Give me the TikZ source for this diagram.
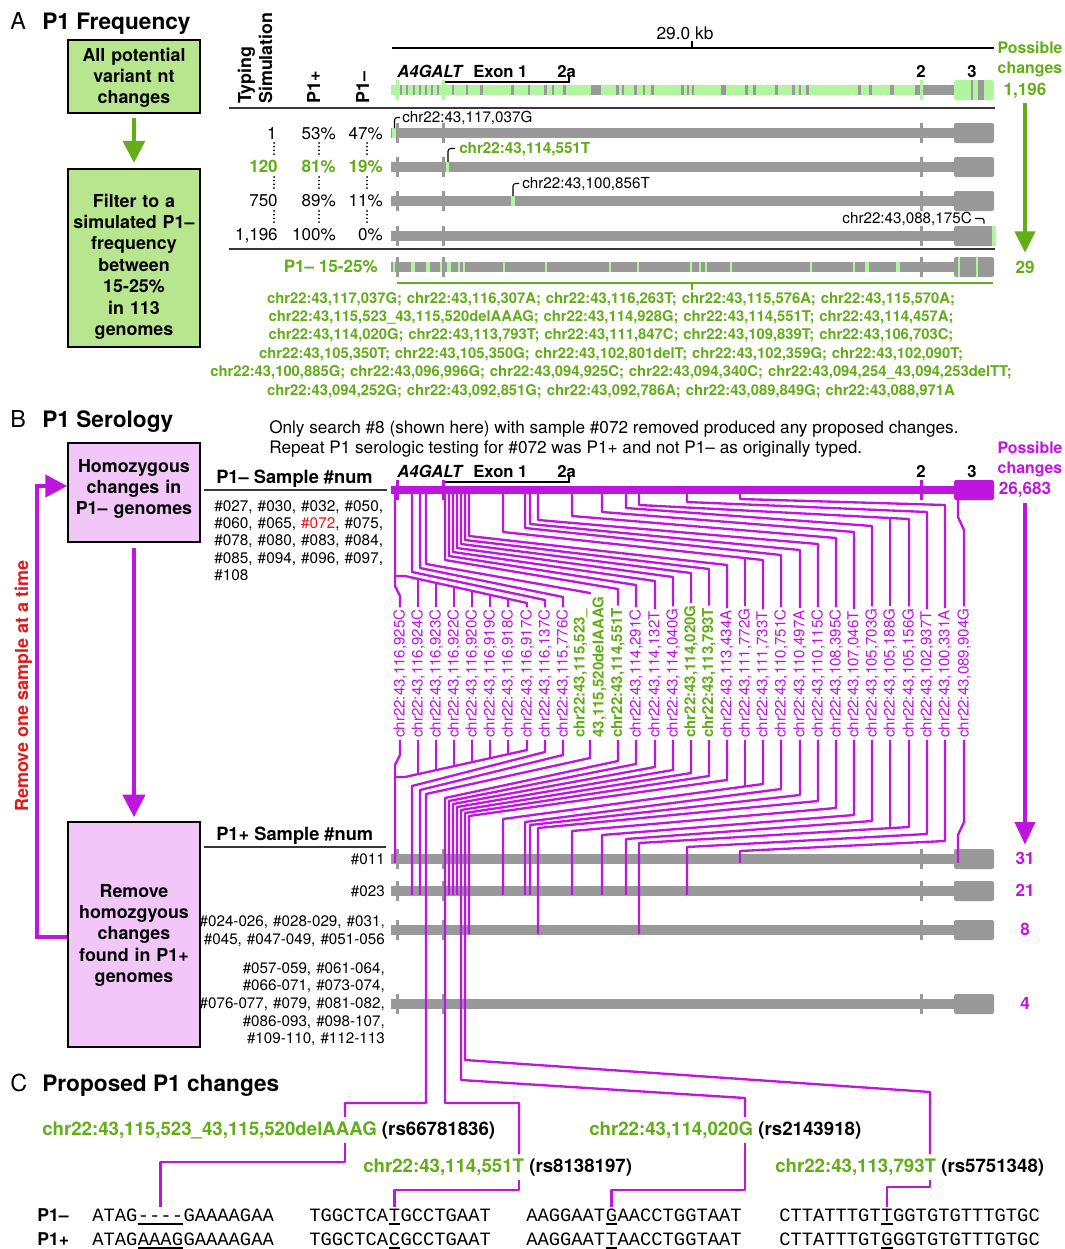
\documentclass[tikz,border=0pt]{standalone}
\usepackage{fontspec}
\setmainfont{TeX Gyre Heros}
\newfontfamily\seqfont{Liberation Mono}
\usetikzlibrary{arrows.meta,calc}
\definecolor{mag}{RGB}{190,22,222}
\definecolor{pinkfill}{RGB}{242,198,248}
\definecolor{gdark}{RGB}{98,174,24}
\definecolor{gfill}{RGB}{184,230,143}
\definecolor{glight}{RGB}{178,245,160}
\definecolor{tgray}{RGB}{153,153,153}
\definecolor{rulec}{RGB}{55,55,55}
\definecolor{redt}{RGB}{225,25,25}
\newcommand{\fsz}[2]{\fontsize{#1}{#2}\selectfont}
\newcommand{\gtrack}[3]{%
  \fill[#2] (391,#1-#3) rectangle (955,#1+#3);
  \foreach \tkx in {397,443,921} \fill[#2] (\tkx-1.5,#1-10) rectangle (\tkx+1.5,#1+10);
  \fill[#2, rounded corners=1.2pt] (954,#1-10) rectangle (994,#1+10);
}
\begin{document}
\begin{tikzpicture}[x=0.75pt,y=-0.75pt,
  mline/.style={draw=mag, line width=1.75pt, line join=round},
  lab/.style={rotate=90, anchor=west, inner sep=1.5pt, text=mag, font=\fsz{11.3}{14.3}},
  labg/.style={rotate=90, anchor=west, inner sep=1.5pt, text=gdark, font=\bfseries\fsz{11.3}{14.3}},
  tx/.style={inner sep=0, anchor=base west},
  btxt/.style={anchor=base, inner sep=0, text width=98pt, align=center, font=\bfseries\fsz{13.4}{16.1}},
  gbox/.style={draw=black, line width=1.1pt, fill=gfill, minimum width=99pt, inner sep=0},
  pbox/.style={draw=black, line width=1.1pt, fill=pinkfill, minimum width=99pt, inner sep=0},
  num/.style={inner sep=0, anchor=base east, font=\fsz{12.8}{15}},
  gnum/.style={inner sep=0, anchor=base east, text=gdark, font=\bfseries\fsz{12.8}{15}},
  hdr/.style={rotate=90, inner sep=0, anchor=base west, font=\bfseries\fsz{13.4}{16}},
  trk/.style={inner sep=0, anchor=base west, font=\bfseries\fsz{12.5}{15}},
  cnt/.style={inner sep=0, anchor=base, text height=9pt, text depth=0pt, font=\bfseries\fsz{12.8}{15}},
  small/.style={inner sep=0, font=\fsz{11.4}{14}},
  clab/.style={anchor=base west, inner xsep=0pt, inner ysep=3pt, font=\bfseries\fsz{14}{16}},
  sq/.style={inner sep=0, anchor=base west, font=\seqfont\fsz{14.1}{16}, text height=10pt, text depth=3pt},
  uline/.style={line width=1.1pt, black},
  rulel/.style={draw=rulec, line width=1.1pt}
]
\useasboundingbox (0,0) rectangle (1064,1249);
\fill[white] (0,0) rectangle (1064,1249);

% ================= Panel A =================
\node[tx, font=\fsz{17.5}{20}] (tA) at (10,29) {A};
\node[tx, font=\bfseries\fsz{17}{20}] (tA2) at (42,29) {P1 Frequency};
\node[gbox, minimum height=54.75pt] (ga1) at (134,76.5) {};
\node[btxt] (ga1t) at (134,61) {All potential\\variant nt\\changes};
\node[gbox, minimum height=133.5pt] (ga2) at (134,258) {};
\node[btxt] (ga2t) at (134,207) {Filter to a\\simulated P1–\\frequency\\between\\15-25\%\\in 113\\genomes};
\draw[gdark, line width=3.6pt, -{Triangle[length=16.5pt,width=16pt]}] ([yshift=-3pt]ga1.south) -- ([yshift=4pt]ga2.north);

% column headers
\node[hdr] (hT) at (251,104) {Typing};
\node[hdr] (hS) at (272,104) {Simulation};
\node[hdr] (hP) at (320,104) {P1+};
\node[hdr] (hM) at (369,104) {P1–};

% scale bar
\draw[black, line width=1.5pt] (392,48) -- (994,48);
\draw[black, line width=1.2pt] (692,48) -- (692,41);
\node[inner sep=0, anchor=base, font=\fsz{13}{15}] (kb) at (685,39) {29.0 kb};

% gene labels A
\node[trk, font=\bfseries\itshape\fsz{12.5}{15}] (gA) at (397,77) {A4GALT};
\node[trk] (e1A) at (473,77) {Exon 1};
\node[trk] (e2aA) at (557,77) {2a};
\node[trk, anchor=base] (e2A) at (921,77) {2};
\node[trk, anchor=base] (e3A) at (972,77) {3};
\draw[black, line width=0.9pt] (445,82) -- (569,82) -- (569,76);

% possible changes A
\node[inner sep=0, anchor=base, text=gdark, font=\bfseries\fsz{11.9}{14}] (pcA1) at (1030,53) {Possible};
\node[inner sep=0, anchor=base, text=gdark, font=\bfseries\fsz{11.9}{14}] (pcA2) at (1030,73) {changes};
\node[cnt, text=gdark] (n1196) at (1025,95) {1,196};
\node[cnt, text=gdark] (n29) at (1025,273) {29};
\draw[gdark, line width=3.2pt, -{Triangle[length=16pt,width=15pt]}] ($(n1196.south)+(0,8)$) -- ($(n29.north)+(0,-8)$);

% rules
\draw[rulel] (229,108) -- (995,108);
\draw[rulel] (229,249) -- (995,249);

% top track (all changes)
\fill[glight] (391,85) rectangle (915,95);
\fill[tgray] (915,85) rectangle (955,95);
\foreach \ga/\gw in {400/2,406/2,413/2,419/2,425/2,431/2,437/2,452/2,466/2,480/3,511/3,528/2,544/3,552/2,563/3,591/10,616/3,622/2,634/3,643/2,651/3,681/3,687/2,692/2,721/5,745/3,753/3,775/3,792/3,799/2,806/3,858/3,869/3,890/4}
  \fill[tgray] (\ga,85) rectangle (\ga+\gw,95);
\foreach \tkx in {397,443,921} \fill[glight] (\tkx-1.5,80) rectangle (\tkx+1.5,100);
\fill[glight, rounded corners=1.2pt] (954,80) rectangle (994,100);
\fill[tgray] (971,80) rectangle (973,100);
\fill[tgray] (978,80) rectangle (984,100);

% simulation rows
\gtrack{133}{tgray}{5}
\gtrack{167}{tgray}{5}
\gtrack{201}{tgray}{5}
\gtrack{236}{tgray}{5}
\gtrack{267}{tgray}{5}
\fill[glight] (392,128) rectangle (396,138);
\fill[glight] (445.5,162) rectangle (449,172);
\fill[glight] (511,196) rectangle (514.5,206);
\fill[glight] (992,226) rectangle (995.5,246);
\foreach \m in {394,412,414,427,429,441,448,450,459,464,504,546,610,638,691,700,706,731,811,854,866,868,897,899}
  \fill[glight] (\m-1.2,262) rectangle (\m+1.2,272);
\foreach \m in {959,977} \fill[glight] (\m-1.2,257) rectangle (\m+1.2,277);

\node[tx, font=\fsz{11.4}{14}] (r1l) at (402,122) {chr22:43,117,037G};
\draw[black, line width=0.8pt, rounded corners=2pt] (394.5,128) |- (400,117.5);
\node[tx, text=gdark, font=\bfseries\fsz{11.4}{14}] (r2l) at (459,153) {chr22:43,114,551T};
\draw[black, line width=0.8pt, rounded corners=2pt] (448,162) |- (455,148.5);
\node[tx, font=\fsz{11.4}{14}] (r3l) at (522,188) {chr22:43,100,856T};
\draw[black, line width=0.8pt, rounded corners=2pt] (513,196) |- (519,183.5);
\node[inner sep=0, anchor=base east, font=\fsz{11.4}{14}] (r4l) at (972,223) {chr22:43,088,175C};
\draw[black, line width=0.8pt, rounded corners=1.5pt] (975,218.5) -| (984,223.5);

% numbers
\node[num] (a11) at (277,139) {1};
\node[num] (a12) at (336,139) {53\%};
\node[num] (a13) at (383,139) {47\%};
\node[gnum] (a21) at (278,172) {120};
\node[gnum] (a22) at (336,172) {81\%};
\node[gnum] (a23) at (383,172) {19\%};
\node[num] (a31) at (278,206) {750};
\node[num] (a32) at (336,206) {89\%};
\node[num] (a33) at (383,206) {11\%};
\node[num] (a41) at (278,240) {1,196};
\node[num] (a42) at (336,240) {100\%};
\node[num] (a43) at (383,240) {0\%};
\node[gnum] (a51) at (378,272) {P1– 15-25\%};
\foreach \dx in {274,319,367} \foreach \dy in {143,177,211}
  \draw[line width=1.5pt, line cap=round, dash pattern=on 0pt off 2.8pt] (\dx,\dy) -- (\dx,\dy+12);

% green bracket and list
\draw[gdark, line width=1.9pt] (397,283) -- (993,283);
\draw[gdark, line width=1.2pt] (692,283) -- (692,290);
\node[anchor=base, inner sep=0, text width=640pt, align=center, text=gdark, font=\bfseries\fsz{11.1}{13.8}] (glist) at (611,303)
 {chr22:43,117,037G; chr22:43,116,307A; chr22:43,116,263T; chr22:43,115,576A; chr22:43,115,570A;\\
  chr22:43,115,523\_43,115,520delAAAG; chr22:43,114,928G; chr22:43,114,551T; chr22:43,114,457A;\\
  chr22:43,114,020G; chr22:43,113,793T; chr22:43,111,847C; chr22:43,109,839T; chr22:43,106,703C;\\
  chr22:43,105,350T; chr22:43,105,350G; chr22:43,102,801delT; chr22:43,102,359G; chr22:43,102,090T;\\
  chr22:43,100,885G; chr22:43,096,996G; chr22:43,094,925C; chr22:43,094,340C; chr22:43,094,254\_43,094,253delTT;\\
  chr22:43,094,252G; chr22:43,092,851G; chr22:43,092,786A; chr22:43,089,849G; chr22:43,088,971A};

% ================= Panel B =================
\node[tx, font=\fsz{17.5}{20}] (tB) at (10,427) {B};
\node[tx, font=\bfseries\fsz{17}{20}] (tB2) at (42,427) {P1 Serology};
\node[tx, font=\fsz{12.9}{15}] (bt1) at (269,433) {Only search \#8 (shown here) with sample \#072 removed produced any proposed changes.};
\node[tx, font=\fsz{12.9}{15}] (bt2) at (269,453) {Repeat P1 serologic testing for \#072 was P1+ and not P1– as originally typed.};

\node[pbox, minimum height=74.25pt] (pb1) at (134,492.5) {};
\node[btxt] (pb1t) at (134,472) {Homozygous\\changes in\\P1– genomes};
\node[pbox, minimum height=168.75pt] (pb2) at (134,934.5) {};
\node[btxt] (pb2t) at (134,897) {Remove\\homozgyous\\changes\\found in P1+\\genomes};
\draw[mag, line width=3.4pt, -{Triangle[length=17pt,width=16.5pt]}] ([yshift=-4pt]pb1.south) -- ([yshift=3pt]pb2.north);
\draw[mag, line width=3.4pt, line join=miter, -{Triangle[length=16.5pt,width=16.5pt]}] ($(pb2.west)+(0,2.5)$) -- (37,937) -- (37,486) -- ($(pb1.west)+(0,-6.5)$);
\node[rotate=90, anchor=base, inner sep=0, text=redt, font=\bfseries\fsz{13.5}{16}] (rm) at (28,686) {Remove one sample at a time};

\node[tx, font=\bfseries\fsz{13.7}{16}] (hm) at (216,483) {P1– Sample \#num};
\draw[rulel] (204,490) -- (387,490);
\node[anchor=base west, inner sep=0, text width=150pt, align=left, font=\fsz{11.5}{13.1}] (p1m) at (214,511)
 {\#027, \#030, \#032, \#050,\\\#060, \#065, \textcolor{redt}{\#072}, \#075,\\\#078, \#080, \#083, \#084,\\\#085, \#094, \#096, \#097,\\\#108};

% magenta track
\gtrack{490}{mag}{4}
\node[trk, font=\bfseries\itshape\fsz{12.5}{15}] (gB) at (397,477) {A4GALT};
\node[trk] (e1B) at (473,477) {Exon 1};
\node[trk] (e2aB) at (557,477) {2a};
\node[trk, anchor=base] (e2B) at (921,477) {2};
\node[trk, anchor=base] (e3B) at (972,477) {3};
\draw[black, line width=0.9pt] (445,482) -- (569,482) -- (569,476);
\node[inner sep=0, anchor=base, text=mag, font=\bfseries\fsz{11.9}{14}] (pcB1) at (1030,453) {Possible};
\node[inner sep=0, anchor=base, text=mag, font=\bfseries\fsz{11.9}{14}] (pcB2) at (1030,473) {changes};
\node[cnt, text=mag] (n26683) at (1025,494) {26,683};

% lower tracks
\node[tx, font=\bfseries\fsz{13.7}{16}] (hp) at (216,840) {P1+ Sample \#num};
\draw[rulel] (204,847) -- (386,847);
\gtrack{859}{tgray}{5}
\gtrack{891}{tgray}{5}
\gtrack{930}{tgray}{5}
\gtrack{1004}{tgray}{5}
\node[small, anchor=base east] (r011) at (385,864) {\#011};
\node[small, anchor=base east] (r023) at (385,896) {\#023};
\node[anchor=base east, inner sep=0, text width=150pt, align=right, font=\fsz{11.4}{13.5}] (r024) at (385,926) {\#024-026, \#028-029, \#031,\\\#045, \#047-049, \#051-056};
\node[anchor=base east, inner sep=0, text width=150pt, align=right, font=\fsz{11.4}{13.3}] (r057) at (385,973) {\#057-059, \#061-064,\\\#066-071, \#073-074,\\\#076-077, \#079, \#081-082,\\\#086-093, \#098-107,\\\#109-110, \#112-113};
\node[cnt, text=mag] (c31) at (1025,864) {31};
\node[cnt, text=mag] (c21) at (1025,896) {21};
\node[cnt, text=mag] (c8) at (1025,935) {8};
\node[cnt, text=mag] (c4) at (1025,1009) {4};
\draw[mag, line width=3pt, -{Triangle[length=17pt,width=15pt]}] ($(n26683.south)+(0,9)$) -- ($(c31.north)+(0,-7)$);

% rotated change labels
\node[lab] (l1) at (400,740) {chr22:43,116,925C};
\node[lab] (l2) at (418,740) {chr22:43,116,924C};
\node[lab] (l3) at (436,740) {chr22:43,116,923C};
\node[lab] (l4) at (454,740) {chr22:43,116,922C};
\node[lab] (l5) at (472,740) {chr22:43,116,920C};
\node[lab] (l6) at (490,740) {chr22:43,116,919C};
\node[lab] (l7) at (508,740) {chr22:43,116,918C};
\node[lab] (l8) at (527,740) {chr22:43,116,917C};
\node[lab] (l9) at (545,740) {chr22:43,116,137C};
\node[lab] (l10) at (563,740) {chr22:43,115,776C};
\node[labg, align=left] (l11) at (590,740) {chr22:43,115,523\_\\43,115,520delAAAG};
\node[labg] (l12) at (618,740) {chr22:43,114,551T};
\node[lab] (l13) at (636,740) {chr22:43,114,291C};
\node[lab] (l14) at (655,740) {chr22:43,114,132T};
\node[lab] (l15) at (673,740) {chr22:43,114,040G};
\node[labg] (l16) at (691,740) {chr22:43,114,020G};
\node[labg] (l17) at (709,740) {chr22:43,113,793T};
\node[lab] (l18) at (727,740) {chr22:43,113,434A};
\node[lab] (l19) at (745,740) {chr22:43,111,772G};
\node[lab] (l20) at (763,740) {chr22:43,111,733T};
\node[lab] (l21) at (781,740) {chr22:43,110,751C};
\node[lab] (l22) at (800,740) {chr22:43,110,497A};
\node[lab] (l23) at (818,740) {chr22:43,110,115C};
\node[lab] (l24) at (836,740) {chr22:43,108,395C};
\node[lab] (l25) at (854,740) {chr22:43,107,046T};
\node[lab] (l26) at (872,740) {chr22:43,105,703G};
\node[lab] (l27) at (890,740) {chr22:43,105,188G};
\node[lab] (l28) at (909,740) {chr22:43,105,156G};
\node[lab] (l29) at (927,740) {chr22:43,102,937T};
\node[lab] (l30) at (945,740) {chr22:43,100,331A};
\node[lab] (l31) at (964,740) {chr22:43,089,904G};

% upper routing
\draw[mline] (395,490) -- (395,576) -- (395,586) -- (400,596) -- (l1.east);
\draw[mline] (395,576) -- (405,576) -- (527,603) -- (l8.east);
\foreach \na/\xa in {2/418,3/436,4/454,5/472,6/490,7/508}
  \draw[mline] (\xa,{576+(\xa-405)*27/122}) -- (l\na.east);
\foreach \na/\sa/\ta/\la/\ua in {9/412/572/545/600,10/420/568/563/597,11/426/564/590/593,12/445/560/618/589,13/449/556/636/585,14/453/552/655/581,15/457/548/673/577,16/461/544/691/573,17/465/540/709/569,18/469/536/727/565,21/525/528/781/555,22/530/524/800/550,23/538/520/818/544,24/572/516/836/538,25/602/512/854/532,26/626/508/872/526,29/687/502/927/512,30/740/499/945/505}
  \draw[mline] (\sa,490) -- (\sa,\ta) -- (\la,\ua) -- (l\na.east);
\draw[mline] (503,490) -- (503,532) -- (763,560) -- (l20.east);
\draw[mline] (745,558.1) -- (l19.east);
\draw[mline] (639,490) -- (639,505) -- (909,519) -- (l28.east);
\draw[mline] (890,518) -- (l27.east);
\draw[mline] (958,499) -- (958,517) -- (964,530) -- (l31.east);

% lower routing
\draw[mline] (l1.west) -- (400,755) -- (395,765) -- (395,863);
\draw[mline] (l8.west) -- (527,750) -- (405,777) -- (395,777);
\foreach \na/\xa in {2/418,3/436,4/454,5/472,6/490,7/508}
  \draw[mline] (l\na.west) -- (\xa,{777-(\xa-405)*27/122});
\foreach \na/\la/\va/\sa/\wa/\ea in {9/545/752/412/786/895,10/563/755/420/790/895,13/636/764/449/801/895,14/655/767/453/804/895,15/673/770/457/807/895,18/727/780/469/816/934,21/781/789/525/822/895,22/800/795/530/825/895,23/818/801/538/828/934,24/836/808/572/831/895,25/854/815/602/835/895,26/872/821/626/839/895,29/927/834/687/847/895,30/945/841/740/851/863}
  \draw[mline] (l\na.west) -- (\la,\va) -- (\sa,\wa) -- (\sa,\ea);
\draw[mline] (l20.west) -- (763,784) -- (503,819) -- (503,895);
\draw[mline] (l19.west) -- (745,786.4);
\draw[mline] (l28.west) -- (909,827) -- (639,843) -- (639,934);
\draw[mline] (l27.west) -- (890,828.1);
\draw[mline] (l31.west) -- (964,822) -- (958,835) -- (958,863);

% ================= Panel C =================
\node[tx, font=\fsz{17.5}{20}] (tC) at (10,1091) {C};
\node[tx, font=\bfseries\fsz{17}{20}] (tC2) at (42,1091) {Proposed P1 changes};
\node[clab] (cA) at (42,1135) {\textcolor{gdark}{chr22:43,115,523\_43,115,520delAAAG} (rs66781836)};
\node[clab] (cB) at (363,1172) {\textcolor{gdark}{chr22:43,114,551T} (rs8138197)};
\node[clab] (cC) at (589,1135) {\textcolor{gdark}{chr22:43,114,020G} (rs2143918)};
\node[clab] (cD) at (775,1172) {\textcolor{gdark}{chr22:43,113,793T} (rs5751348)};
\coordinate (xA) at (345,0);
\coordinate (xB) at (519,0);
\coordinate (xC) at (745,0);
\coordinate (xD) at (930,0);

\draw[mline] (l11.west) -- (590,758) -- (426,794) -- (426,1103) -| (xA |- cA.north);
\draw[mline] (l12.west) -- (618,761) -- (445,798) -- (445,1103) -| (xB |- cB.north);
\draw[mline] (l16.west) -- (691,773) -- (461,810) -- (461,1080) -- (745,1098) -- (xC |- cC.north);
\draw[mline] (l17.west) -- (709,776) -- (465,813) -- (465,1060) -- (930,1092) -- (xD |- cD.north);

% sequences
\node[tx, font=\bfseries\fsz{13.2}{15}] (pm) at (37,1221) {P1–};
\node[tx, font=\bfseries\fsz{13.2}{15}] (pp) at (37,1245) {P1+};
\node[sq] (s1a) at (92,1221) {ATAG};
\node[sq] (s1b) at (s1a.base east) {{-}{-}{-}{-}};
\node[sq] (s1c) at (s1b.base east) {GAAAAGAA};
\node[sq] (s2a) at (309,1221) {TGGCTCA};
\node[sq] (s2b) at (s2a.base east) {T};
\node[sq] (s2c) at (s2b.base east) {GCCTGAAT};
\node[sq] (s3a) at (526,1221) {AAGGAAT};
\node[sq] (s3b) at (s3a.base east) {G};
\node[sq] (s3c) at (s3b.base east) {AACCTGGTAAT};
\node[sq] (s4a) at (779,1221) {CTTATTTGT};
\node[sq] (s4b) at (s4a.base east) {T};
\node[sq] (s4c) at (s4b.base east) {GGTGTGTTTGTGC};
\node[sq] (t1a) at (92,1245) {ATAG};
\node[sq] (t1b) at (t1a.base east) {AAAG};
\node[sq] (t1c) at (t1b.base east) {GAAAAGAA};
\node[sq] (t2a) at (309,1245) {TGGCTCA};
\node[sq] (t2b) at (t2a.base east) {C};
\node[sq] (t2c) at (t2b.base east) {GCCTGAAT};
\node[sq] (t3a) at (526,1245) {AAGGAAT};
\node[sq] (t3b) at (t3a.base east) {T};
\node[sq] (t3c) at (t3b.base east) {AACCTGGTAAT};
\node[sq] (t4a) at (779,1245) {CTTATTTGT};
\node[sq] (t4b) at (t4a.base east) {G};
\node[sq] (t4c) at (t4b.base east) {GGTGTGTTTGTGC};
\foreach \uu in {s1b,s2b,s3b,s4b,t1b,t2b,t3b,t4b}
  \draw[uline] ([yshift=-2.2pt]\uu.base west) -- ([yshift=-2.2pt]\uu.base east);

\draw[mline] (xA |- cA.south) -- (345,1162) -| (s1b.north);
\draw[mline] (xB |- cB.south) -- (519,1190) -| (s2b.north);
\draw[mline] (xC |- cC.south) -- (745,1190) -| (s3b.north);
\draw[mline] (xD |- cD.south) -- (930,1187) -| (s4b.north);

\end{tikzpicture}
\end{document}
